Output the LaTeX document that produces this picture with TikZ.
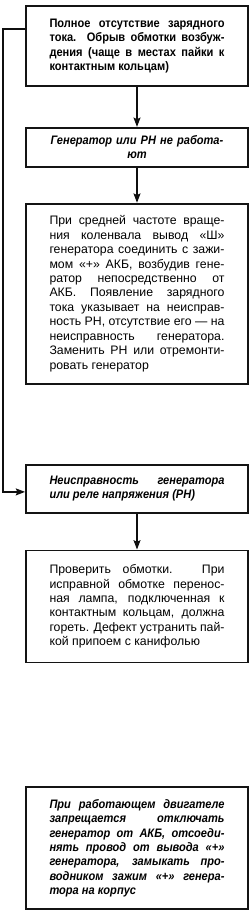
\documentclass[tikz,border=0pt]{standalone}
\usepackage{fontspec}
\setmainfont{Liberation Sans}
\newfontfamily\narrowfont[FakeStretch=0.9]{Liberation Sans}
\usetikzlibrary{arrows.meta, positioning}
\definecolor{boxEdge}{RGB}{20,20,20}
\definecolor{lineCol}{RGB}{15,15,15}
\newcommand\boxfont{\fontsize{10.5}{12.3}\selectfont\hyphenpenalty=10000\relax}

\begin{document}
\begin{tikzpicture}[
      node distance=1.1cm,
      box/.style={rectangle, draw=boxEdge, line width=1.6pt, fill=white, text width=5.25cm, inner xsep=0.705cm, minimum width=6.66cm, align=justify, font=\boxfont},
      boldbox/.style={box, font=\narrowfont\boxfont\bfseries},
      warnbox/.style={box, font=\narrowfont\boxfont\bfseries\itshape},
      arrow/.style={-{Stealth[length=2.8mm, width=2.1mm, inset=0.5mm]}, line width=1.1pt, lineCol}
  ]
      \useasboundingbox (0,0) rectangle (7.5,-27.33);
      \node[boldbox, minimum height=2.4cm, anchor=north] (fault) at (4.11,-0.15) {Полное отсутствие зарядного\linebreak тока. Обрыв обмотки возбуж-\linebreak дения (чаще в местах пайки к\linebreak контактным кольцам)};
      \node[warnbox, below=1.2cm of fault, minimum height=1.17cm, align=center] (nowork) {Генератор или РН не работа-\\ют};
      \node[box, below=1.05cm of nowork, minimum height=5.4cm] (check) {При средней частоте враще-\linebreak ния коленвала вывод «Ш»\linebreak генератора соединить с зажи-\linebreak мом «+» АКБ, возбудив гене-\linebreak ратор непосредственно от\linebreak АКБ. Появление зарядного\linebreak тока указывает на неисправ-\linebreak ность РН, отсутствие его — на\linebreak неисправность генератора.\linebreak Заменить РН или отремонти-\linebreak ровать генератор};
      \node[warnbox, below=2.37cm of check, minimum height=1.44cm] (genrh) {Неисправность генератора\linebreak или реле напряжения (РН)};
      \node[box, below=1.08cm of genrh, minimum height=3.36cm] (winding) {Проверить обмотки. При\linebreak исправной обмотке перенос-\linebreak ная лампа, подключенная к\linebreak контактным кольцам, должна\linebreak гореть. Дефект устранить пай-\linebreak кой припоем с канифолью};
      \node[warnbox, below=3.69cm of winding, minimum height=3.66cm] (warn) {При работающем двигателе\linebreak запрещается отключать\linebreak генератор от АКБ, отсоеди-\linebreak нять провод от вывода «+»\linebreak генератора, замыкать про-\linebreak водником зажим «+» генера-\linebreak тора на корпус};
      \draw[arrow] (fault) -- (nowork);
      \draw[arrow] (nowork) -- (check);
      \draw[arrow] (genrh) -- (winding);
      \draw[arrow] ([yshift=-0.72cm]fault.north west) -- ++(-0.66,0) |- ([yshift=-0.1cm]genrh.west);
  \end{tikzpicture}
\end{document}
